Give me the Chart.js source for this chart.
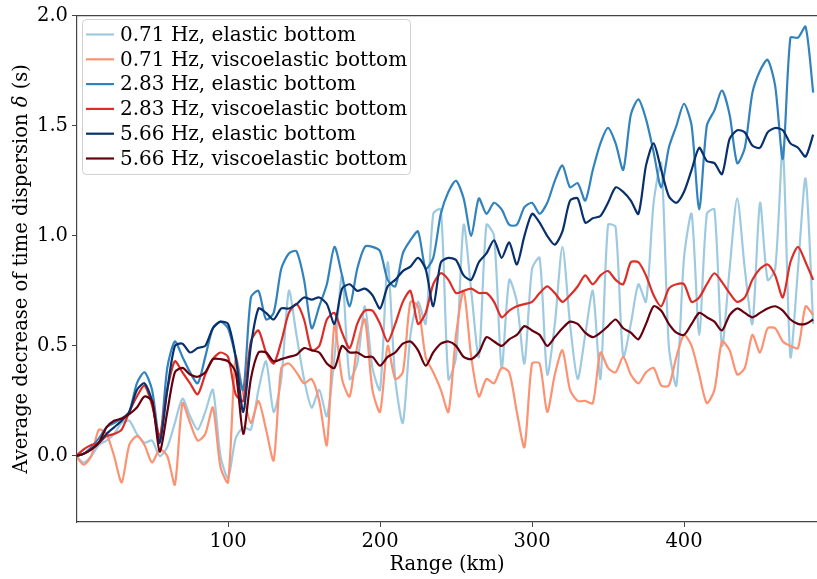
<!DOCTYPE html>
<html lang="en">
<head>
<meta charset="UTF-8">
<title>Time dispersion vs range</title>
<script src="https://cdn.jsdelivr.net/npm/chart.js"></script>
<style>
  body { margin: 0; background: #fff; }
</style>
</head>
<body>
<canvas id="myChart" width="817" height="579"></canvas>
<script>
// range grid (km)
const rangeKm = [0,5,10,15,20,25,30,35,40,45,50,55,60,65,70,75,80,85,90,95,
  100,105,110,115,120,125,130,135,140,145,150,155,160,165,170,175,180,185,190,195,
  200,205,210,215,220,225,230,235,240,245,250,255,260,265,270,275,280,285,290,295,
  300,305,310,315,320,325,330,335,340,345,350,355,360,365,370,375,380,385,390,395,
  400,405,410,415,420,425,430,435,440,445,450,455,460,465,470,475,480,485];

const seriesLabels = [
  '0.71 Hz, elastic bottom',
  '0.71 Hz, viscoelastic bottom',
  '2.83 Hz, elastic bottom',
  '2.83 Hz, viscoelastic bottom',
  '5.66 Hz, elastic bottom',
  '5.66 Hz, viscoelastic bottom'
];
const seriesColors = ['#9ecae1', '#fc9272', '#3182bd', '#de2d26', '#08306b', '#67000d'];

const xTicks = [100, 200, 300, 400];
const yTicks = [0, 0.5, 1.0, 1.5, 2.0];

const elastic071 = [0,-0.03,0.0,0.05,0.07,0.1,0.15,0.16,0.1,0.06,
  0.07,0.0,0.04,0.15,0.26,0.18,0.12,0.2,0.3,0.0,
  -0.1,0.08,0.13,0.12,0.3,0.43,0.2,0.35,0.75,0.55,
  0.35,0.22,0.3,0.18,0.45,0.82,0.35,0.42,0.68,0.4,
  0.3,0.88,0.35,0.15,0.55,0.7,0.6,1.1,1.12,0.35,
  0.45,1.05,0.75,0.45,1.05,1.0,0.4,0.8,0.7,0.42,
  0.85,0.9,0.37,0.6,0.95,0.6,0.35,0.55,0.75,0.35,
  1.05,1.04,0.45,0.6,0.78,0.7,1.15,1.33,0.5,0.32,
  0.9,1.1,0.55,1.1,1.12,0.5,0.85,1.17,0.85,0.6,
  1.15,0.8,0.85,1.4,0.45,0.85,1.26,0.6];

const visco071 = [0,-0.04,0.0,0.12,0.1,0.0,-0.12,0.05,0.09,0.05,
  -0.03,0.03,0.0,-0.13,0.24,0.15,0.07,0.1,0.22,-0.05,
  -0.12,0.45,0.28,0.15,0.25,0.12,-0.02,0.4,0.42,0.38,
  0.33,0.35,0.25,0.05,0.6,0.35,0.27,0.5,0.62,0.3,
  0.2,0.5,0.35,0.38,0.7,0.68,0.45,0.38,0.3,0.2,
  0.55,0.75,0.45,0.27,0.35,0.33,0.4,0.38,0.2,0.04,
  0.42,0.42,0.2,0.37,0.48,0.3,0.25,0.25,0.24,0.47,
  0.4,0.38,0.45,0.37,0.33,0.38,0.4,0.32,0.32,0.45,
  0.55,0.5,0.37,0.24,0.3,0.52,0.48,0.37,0.4,0.55,
  0.47,0.58,0.58,0.52,0.5,0.49,0.68,0.64];

const elastic283 = [0,0.01,0.04,0.08,0.13,0.15,0.17,0.2,0.33,0.38,
  0.3,0.07,0.4,0.52,0.45,0.38,0.33,0.45,0.58,0.61,
  0.58,0.45,0.3,0.72,0.75,0.62,0.65,0.85,0.92,0.93,
  0.8,0.58,0.68,0.78,0.95,0.82,0.68,0.85,0.95,0.95,
  0.93,0.8,0.77,0.92,0.98,1.02,0.85,0.9,1.1,1.2,
  1.25,1.17,1.0,1.17,1.1,1.15,1.12,1.05,1.05,1.13,
  1.15,1.1,1.15,1.25,1.32,1.22,1.24,1.16,1.3,1.42,
  1.49,1.42,1.3,1.55,1.62,1.53,1.38,1.22,1.4,1.5,
  1.6,1.5,1.12,1.5,1.57,1.66,1.55,1.33,1.4,1.65,
  1.75,1.8,1.68,1.35,1.9,1.9,1.95,1.65];

const visco283 = [0,0.03,0.05,0.06,0.09,0.1,0.12,0.2,0.27,0.32,
  0.23,0.09,0.3,0.43,0.38,0.33,0.28,0.37,0.44,0.47,
  0.45,0.28,0.25,0.52,0.57,0.47,0.42,0.52,0.65,0.69,
  0.62,0.48,0.5,0.62,0.65,0.56,0.49,0.6,0.66,0.66,
  0.6,0.52,0.6,0.7,0.75,0.6,0.65,0.78,0.83,0.8,
  0.74,0.75,0.76,0.74,0.74,0.7,0.63,0.66,0.68,0.69,
  0.7,0.74,0.77,0.74,0.7,0.73,0.77,0.82,0.78,0.82,
  0.84,0.8,0.78,0.88,0.88,0.82,0.73,0.68,0.76,0.78,
  0.78,0.7,0.72,0.78,0.83,0.79,0.74,0.7,0.72,0.8,
  0.85,0.87,0.82,0.72,0.88,0.95,0.88,0.8];

const elastic566 = [0,0.01,0.03,0.06,0.1,0.13,0.16,0.2,0.3,0.33,
  0.25,0.06,0.3,0.5,0.51,0.47,0.49,0.5,0.58,0.61,
  0.6,0.45,0.2,0.5,0.67,0.65,0.62,0.67,0.67,0.69,
  0.72,0.71,0.72,0.69,0.6,0.76,0.78,0.75,0.76,0.73,
  0.67,0.77,0.8,0.84,0.86,0.9,0.85,0.68,0.88,0.9,
  0.89,0.82,0.8,0.88,0.92,0.98,0.9,0.97,0.87,1.0,
  1.1,1.06,1.0,0.96,1.02,1.16,1.17,1.06,1.08,1.09,
  1.15,1.22,1.2,1.16,1.1,1.32,1.42,1.3,1.18,1.15,
  1.2,1.3,1.4,1.34,1.33,1.28,1.44,1.48,1.47,1.41,
  1.4,1.47,1.49,1.48,1.42,1.4,1.36,1.46];

const visco566 = [0,0.01,0.03,0.06,0.13,0.16,0.17,0.19,0.22,0.27,
  0.25,0.02,0.2,0.38,0.4,0.37,0.36,0.38,0.44,0.44,
  0.43,0.38,0.1,0.35,0.47,0.47,0.43,0.44,0.45,0.46,
  0.49,0.48,0.47,0.42,0.4,0.5,0.47,0.47,0.45,0.45,
  0.41,0.45,0.47,0.51,0.52,0.48,0.41,0.47,0.51,0.52,
  0.5,0.45,0.44,0.47,0.54,0.52,0.5,0.53,0.55,0.59,
  0.57,0.55,0.5,0.54,0.58,0.61,0.6,0.56,0.54,0.56,
  0.59,0.62,0.58,0.56,0.53,0.6,0.68,0.66,0.6,0.56,
  0.55,0.6,0.65,0.63,0.61,0.57,0.64,0.67,0.65,0.63,
  0.65,0.67,0.68,0.66,0.62,0.6,0.6,0.62];

const seriesValues = [elastic071, visco071, elastic283, visco283, elastic566, visco566];

const FONT = "'DejaVu Serif', 'Liberation Serif', serif";
const FONT_SIZE = 19.5;
const LEGEND_SIZE = 20;

// top spine (left and bottom come from the scales)
const topSpine = {
  id: 'topSpine',
  afterDatasetsDraw(chart) {
    const { ctx, chartArea } = chart;
    ctx.save();
    ctx.strokeStyle = '#444';
    ctx.lineWidth = 1.2;
    ctx.beginPath();
    ctx.moveTo(chartArea.left, chartArea.top);
    ctx.lineTo(chartArea.right, chartArea.top);
    ctx.stroke();
    ctx.restore();
  }
};

// y-axis title with italic delta
const yTitle = {
  id: 'yTitle',
  afterDraw(chart) {
    const { ctx, chartArea } = chart;
    const a = 'Average decrease of time dispersion ';
    const d = '\u03B4';
    const b = ' (s)';
    ctx.save();
    ctx.translate(22, (chartArea.top + chartArea.bottom) / 2);
    ctx.rotate(-Math.PI / 2);
    ctx.fillStyle = '#000';
    ctx.textBaseline = 'middle';
    ctx.font = FONT_SIZE + 'px ' + FONT;
    const wa = ctx.measureText(a).width, wb = ctx.measureText(b).width;
    ctx.font = 'italic ' + FONT_SIZE + 'px ' + FONT;
    const wd = ctx.measureText(d).width;
    let x = -(wa + wd + wb) / 2;
    ctx.font = FONT_SIZE + 'px ' + FONT;
    ctx.fillText(a, x, 0);
    x += wa;
    ctx.font = 'italic ' + FONT_SIZE + 'px ' + FONT;
    ctx.fillText(d, x, 0);
    x += wd;
    ctx.font = FONT_SIZE + 'px ' + FONT;
    ctx.fillText(b, x, 0);
    ctx.restore();
  }
};

// legend in a box inside the plot, upper left
const boxLegend = {
  id: 'boxLegend',
  afterDraw(chart) {
    const ctx = chart.ctx;
    const bx = 82.5, by = 19.5, bw = 328, bh = 155;
    ctx.save();
    ctx.beginPath();
    ctx.roundRect(bx, by, bw, bh, 4);
    ctx.fillStyle = 'rgba(255,255,255,0.85)';
    ctx.fill();
    ctx.strokeStyle = '#d0d0d0';
    ctx.lineWidth = 1;
    ctx.stroke();
    ctx.font = LEGEND_SIZE + 'px ' + FONT;
    ctx.textBaseline = 'middle';
    ctx.fillStyle = '#000';
    seriesLabels.forEach((label, i) => {
      const y = 34.5 + i * 24.8;
      ctx.strokeStyle = seriesColors[i];
      ctx.lineWidth = 2.2;
      ctx.beginPath();
      ctx.moveTo(86, y);
      ctx.lineTo(114, y);
      ctx.stroke();
      ctx.fillText(label, 120, y + 1);
    });
    ctx.restore();
  }
};

const datasets = seriesLabels.map((label, i) => ({
  label: label,
  data: rangeKm.map((r, j) => ({ x: r, y: seriesValues[i][j] })),
  borderColor: seriesColors[i],
  backgroundColor: seriesColors[i],
  borderWidth: 2.2,
  pointRadius: 0,
  tension: 0.25,
  fill: false,
  order: seriesLabels.length - 1 - i
}));

new Chart(document.getElementById('myChart').getContext('2d'), {
  type: 'line',
  data: { datasets: datasets },
  options: {
    responsive: false,
    animation: false,
    devicePixelRatio: 1,
    layout: { padding: { top: 14, right: 0, left: 0, bottom: 0 } },
    plugins: {
      legend: { display: false },
      tooltip: { enabled: false }
    },
    scales: {
      x: {
        type: 'linear',
        min: 0.6,
        max: 487.5,
        afterBuildTicks: s => { s.ticks = xTicks.map(v => ({ value: v })); },
        afterFit: s => { s.height = 57; },
        border: { display: true, color: '#444', width: 1.2 },
        grid: { drawOnChartArea: false, drawTicks: true, tickLength: 5, color: '#444' },
        ticks: { color: '#000', font: { family: FONT, size: FONT_SIZE }, padding: 3, maxRotation: 0 },
        title: { display: true, text: 'Range (km)', color: '#000', font: { family: FONT, size: FONT_SIZE }, padding: { top: 0, bottom: 2 } }
      },
      y: {
        type: 'linear',
        min: -0.3,
        max: 2.0,
        afterBuildTicks: s => { s.ticks = yTicks.map(v => ({ value: v })); },
        afterFit: s => { s.width = 77; },
        border: { display: true, color: '#444', width: 1.2 },
        grid: { drawOnChartArea: false, drawTicks: true, tickLength: 5, color: '#444' },
        ticks: { color: '#000', font: { family: FONT, size: FONT_SIZE }, padding: 4, callback: v => v.toFixed(1) },
        title: { display: false }
      }
    }
  },
  plugins: [topSpine, yTitle, boxLegend]
});
</script>
</body>
</html>
